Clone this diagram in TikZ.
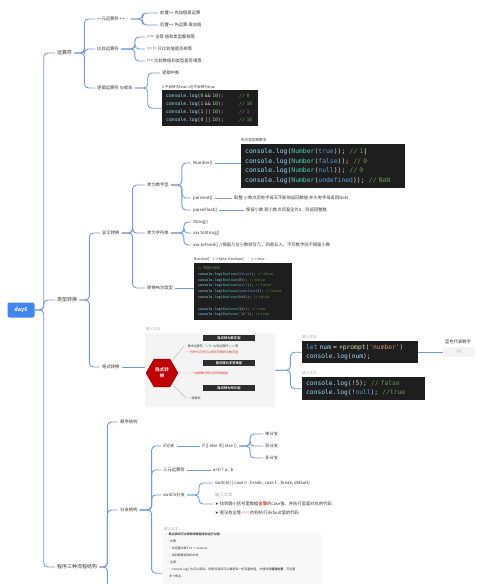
\documentclass[tikz,border=0pt]{standalone}
\usepackage{fontspec}
\setmainfont{Noto Sans CJK SC}[BoldFont={Noto Sans CJK SC Bold}]
\setmonofont{DejaVu Sans Mono}
\newfontfamily\symfont{DejaVu Sans}
\usetikzlibrary{
  positioning,
  shapes.geometric
}
\definecolor{linec}{RGB}{116,153,214}
\definecolor{daybg}{RGB}{66,133,240}
\definecolor{inkgray}{RGB}{51,51,51}
\definecolor{lblgray}{RGB}{165,165,165}
\definecolor{codebg}{RGB}{30,30,30}
\definecolor{codefg}{RGB}{212,212,212}
\definecolor{codeblue}{RGB}{156,220,254}
\definecolor{codekw}{RGB}{86,156,214}
\definecolor{codeteal}{RGB}{78,201,176}
\definecolor{codenum}{RGB}{181,206,168}
\definecolor{codecmt}{RGB}{106,153,85}
\definecolor{codestr}{RGB}{206,145,120}
\definecolor{codefn}{RGB}{220,220,170}
\definecolor{hexred}{RGB}{192,0,0}
\definecolor{bardark}{RGB}{45,45,45}
\definecolor{notered}{RGB}{220,40,40}
\definecolor{panelbg}{RGB}{244,244,244}
\newcommand{\fs}[2]{\fontsize{#1}{#2}\selectfont}
\newcommand{\cl}{\textcolor{codeblue}{console.log}}
\newcommand{\cm}[1]{\textcolor{codecmt}{#1}}
\newcommand{\nm}[1]{\textcolor{codenum}{#1}}
\newcommand{\zh}[1]{{\rmfamily #1}}

\begin{document}
\begin{tikzpicture}[x=1pt, y=-1pt,
  every node/.style={inner sep=0pt},
  topic/.style={anchor=west, inner xsep=2pt, inner ysep=1pt, text=inkgray, font=\fs{5}{6}},
  item/.style={anchor=west, inner xsep=2pt, inner ysep=1pt, text=inkgray, font=\fs{4.3}{5}},
  hint/.style={anchor=south west, text=lblgray, font=\fs{3.6}{4}},
  fine/.style={anchor=west, text=inkgray, font=\fs{3}{3.5}},
  bar/.style={fill=bardark, text=white, minimum width=52, minimum height=5.5, font=\fs{3.3}{4}\bfseries},
  branch/.style={draw=linec, line width=0.9pt, rounded corners=4pt},
  spoke/.style={draw=gray!70, line width=0.3pt},
  codebox/.style={anchor=north west, fill=codebg, text=codefg, align=left, inner xsep=4pt, inner ysep=2pt}]
  \useasboundingbox (0,0) rectangle (500,584);
  \clip (0,0) rectangle (500,584);

  % root and main topics
  \node[fill=daybg, text=white, rounded corners=2pt, minimum width=27, minimum height=15, font=\fs{5.5}{6}\bfseries] (day6) at (21,310) {day6};
  \node[topic] (ops) at (55,53) {运算符};
  \node[topic] (conv) at (55,300) {类型转换};
  \node[topic] (flow) at (55,567) {程序三种流程结构};
  \foreach \c in {ops,conv,flow}
    \draw[branch] (day6.east) -- ++(9,0) |- (\c.west);

  % operators
  \node[item] (unary) at (95,19) {一元运算符 ++ -{}-};
  \node[item] (cmp) at (95,49) {比较运算符};
  \node[item] (logic) at (95,88) {逻辑运算符 与或非};
  \foreach \c in {unary,cmp,logic}
    \draw[branch] (ops.east) -- ++(10,0) |- (\c.west);
  \node[item] (pre) at (158,13) {前置++ 先加值再运算};
  \node[item] (post) at (158,25) {后置++ 先运算 再加值};
  \foreach \c in {pre,post}
    \draw[branch] (unary.east) -- ++(12,0) |- (\c.west);
  \node[item] (eqq) at (145,37) {=== 全等 值和类型都相等};
  \node[item] (eq) at (145,49) {== != 只比较值是否相等};
  \node[item] (neqq) at (145,61) {!== 比较数值和类型是否相等};
  \foreach \c in {eqq,eq,neqq}
    \draw[branch] (cmp.east) -- ++(14,0) |- (\c.west);
  \node[item] (brk) at (160,73) {逻辑中断};
  \node[hint, text=inkgray] (lhint) at (162,89) {0 不会转为false 1也不会转为true};
  \node[codebox, font=\ttfamily\fs{4.75}{8}, text width=88, minimum height=36] (lcode) at (162,90) {%
    \makebox[73pt][l]{\cl(\nm{0}~\&\&~\nm{10});}\cm{//~0}\\
    \makebox[73pt][l]{\cl(\nm{1}~\&\&~\nm{10});}\cm{//~10}\\
    \makebox[73pt][l]{\cl(\nm{1}~||~\nm{10});}\cm{//~1}\\
    \makebox[73pt][l]{\cl(\nm{0}~||~\nm{10});}\cm{//~10}};
  \foreach \c in {brk,lcode}
    \draw[branch] (logic.east) -- ++(13,0) |- (\c.west);

  % explicit conversion
  \node[item] (explicit) at (100,233) {显示转换};
  \node[item] (implicit) at (100,367) {隐式转换};
  \foreach \c in {explicit,implicit}
    \draw[branch] (conv.east) -- ++(10,0) |- (\c.west);
  \node[item] (tonum) at (145,185) {转为数字型};
  \node[item] (tostr) at (145,233) {转为字符串};
  \node[item] (tobool) at (145,288) {转换布尔类型};
  \foreach \c in {tonum,tostr,tobool}
    \draw[branch] (explicit.east) -- ++(11,0) |- (\c.west);

  \node[item] (fnum) at (191,163) {Number()};
  \node[item] (fint) at (191,198) {parseInt()};
  \node[item] (fflt) at (191,210) {parseFloat()};
  \foreach \c in {fnum,fint,fflt}
    \draw[branch] (tonum.east) -- ++(11,0) |- (\c.west);
  \node[hint, text=inkgray] (nhint) at (241,142) {布尔类型转数字:};
  \node[codebox, font=\ttfamily\fs{6.4}{9.6}, text width=156, minimum height=44] (ncode) at (241,144) {%
    \cl(\textcolor{codeteal}{Number}(\textcolor{codekw}{true}));~~\cm{//~1}\textcolor{white}{|}\\
    \cl(\textcolor{codeteal}{Number}(\textcolor{codekw}{false}));~~\cm{//~0}\\
    \cl(\textcolor{codeteal}{Number}(\textcolor{codekw}{null}));~~\cm{//~0}\\
    \cl(\textcolor{codeteal}{Number}(\textcolor{codekw}{undefined}));~~\cm{//~NaN}};
  \draw[branch] (fnum.east) -- (fnum.east -| ncode.west);
  \node[item] (intnote) at (232,198) {取整 小数点后有字母又不影响返回数值 并头有字母返回NaN};
  \node[item] (fltnote) at (244,210) {保留小数 若小数点后面全为0，则返回整数};
  \draw[branch] (fint.east) -- (intnote.west);
  \draw[branch] (fflt.east) -- (fltnote.west);

  \node[item] (fstr) at (191,222) {String()};
  \node[item] (ftostr) at (191,233) {xxx.toString()};
  \node[item] (ffix) at (191,245) {xxx.toFixed() //保留几位小数就写几，四舍五入，不写数字则不保留小数};
  \foreach \c in {fstr,ftostr,ffix}
    \draw[branch] (tostr.east) -- ++(13,0) |- (\c.west);

  \node[hint, text=inkgray] (bhint) at (194,261) {Boolean('') -> false~~Boolean(' ') -> true};
  \node[codebox, font=\ttfamily\fs{3.4}{5.8}, text width=90, minimum height=57] (bcode) at (194,263) {%
    \cm{//~\zh{转换为假的}}\\
    \cl(\textcolor{codeteal}{Boolean}(\textcolor{codekw}{false}));~~\cm{//~false}\\
    \cl(\textcolor{codeteal}{Boolean}(\nm{0}));~~\cm{//~false}\\
    \cl(\textcolor{codeteal}{Boolean}(\textcolor{codekw}{null}));~~\cm{//~false}\\
    \cl(\textcolor{codeteal}{Boolean}(\textcolor{codekw}{undefined}));~~\cm{//~false}\\
    \cl(\textcolor{codeteal}{Boolean}(\textcolor{codekw}{NaN}));~~\cm{//~false}\\
    \mbox{}\\
    \cl(\textcolor{codeteal}{Boolean}(\nm{12}));~~\cm{//~true}\\
    \cl(\textcolor{codeteal}{Boolean}(\textcolor{codestr}{'12'}));~~\cm{//~true}};
  \draw[branch] (tobool.east) -- (tobool.east -| bcode.west);

  % implicit conversion
  \node[hint] (yshint) at (146,331) {输入文本};
  \node[fill=panelbg, anchor=north west, minimum width=130, minimum height=74] (yspanel) at (145,333) {};
  \draw[branch] (implicit.east) -- (implicit.east -| yspanel.west);
  \node[regular polygon, regular polygon sides=6, fill=hexred, draw=hexred!70!black, minimum size=32, text=white, align=center, font=\fs{4.5}{5.5}\bfseries] (hex) at (162,373) {隐式转\\换};
  \node[bar] (bnum) at (229,338) {隐式转为数字型};
  \node[bar] (bstr) at (229,363) {隐式转为字符串型};
  \node[bar] (bbool) at (229,388) {隐式转为布尔型};
  \node[fine] (r1) at (184,346) {• 算术运算符 - * / \%~~比较运算符 > == 等};
  \node[fine, text=notered] (r2) at (184,352) {• + 号作为正号可以把字符串转为数字型};
  \node[fine, text=notered] (r3) at (189,373) {• + 会把数字转为字符串相加};
  \node[fine] (r4) at (186,398) {• ! 逻辑非};
  \foreach \c in {r1,r3,r4}
    \draw[spoke] (hex) -- (\c.west);

  \node[hint] (c1hint) at (302,339) {输入文本};
  \node[codebox, font=\ttfamily\fs{6.3}{9}, text width=108, minimum height=22] (c1) at (302,341) {%
    \textcolor{codekw}{let}~\textcolor{codeblue}{num}~=~+\textcolor{codefn}{prompt}(\textcolor{codestr}{'number'})\\
    \cl(\textcolor{codeblue}{num});};
  \node[hint] (c2hint) at (302,375) {输入文本};
  \node[codebox, font=\ttfamily\fs{6.3}{9}, text width=115, minimum height=23] (c2) at (302,377) {%
    \cl(!\nm{5});~~\cm{//~false}\\
    \cl(!\textcolor{codekw}{null});~~\cm{//true}};
  \foreach \c in {c1,c2}
    \draw[branch] (yspanel.east) -- ++(15,0) |- (\c.west);
  \node[item, anchor=south west] (bluehint) at (443,345) {蓝色代表数字};
  \node[fill=panelbg, anchor=west, minimum width=32, minimum height=10, text=codekw, font=\fs{4.5}{5}] (blue) at (443,352) {!!!};
  \draw[branch] (c1.east) -- (c1.east -| blue.west);

  % flow structures
  \node[item] (seq) at (118,422) {顺序结构};
  \node[item] (branchs) at (118,510) {分支结构};
  \foreach \c in {seq,branchs}
    \draw[branch] (flow.east) -- ++(8,0) |- (\c.west);
  \draw[branch] (flow.east) -- ++(8,0) -- ++(0,30);

  \node[item] (ifb) at (161,446) {if分支};
  \node[item] (tern) at (161,470) {三元运算符};
  \node[item] (swb) at (161,495) {switch分支};
  \node[hint] (dbghint) at (164,531) {输入文本};
  \node[fill=panelbg!60, anchor=north west, minimum width=160, minimum height=80] (dbg) at (162,533) {};
  \foreach \c in {ifb,tern,swb,dbg}
    \draw[branch] (branchs.east) -- ++(12,0) |- (\c.west);

  \node[item] (ifs) at (200,446) {if () else if() else ()};
  \draw[branch] (ifb.east) -- (ifs.west);
  \node[item] (one) at (263,434) {单分支};
  \node[item] (two) at (263,446) {双分支};
  \node[item] (many) at (263,458) {多分支};
  \foreach \c in {one,two,many}
    \draw[branch] (ifs.east) -- ++(11,0) |- (\c.west);
  \node[item] (ternx) at (211,470) {a>b ? a : b};
  \draw[branch] (tern.east) -- (ternx.west);

  \node[item] (swx) at (213,483) {switch() \{ case 0 : break ; case 1 : break; default\}};
  \node[item, align=left, font=\fs{4.3}{9}] (swnote) at (213,504) {%
    \textcolor{lblgray}{输入文本}\\
    {\symfont ➤} 找到跟小括号里数据\textcolor{notered}{\bfseries 全等}的case值，并执行里面对应的代码\\
    {\symfont ➤} 若没有全等 \textcolor{notered}{===} 的则执行default里的代码};
  \foreach \c in {swx,swnote}
    \draw[branch] (swb.east) -- ++(12,0) |- (\c.west);

  \node[fine, anchor=north west, align=left, font=\fs{3}{7}] (dbgtxt) at (165,533) {%
    \textbf{• 断点调试可以帮助观察程序的运行过程}\\
    ~~• 步骤\\
    ~~~~• 浏览器中按 F12 → sources\\
    ~~~~• 找到需要调试的文件\\
    ~~• 注意\\
    ~~~~• console.log() 也可以调试，但断点调试可以看到每一步变量的值，方便找到\textbf{错误位置}，可设置\\
    ~~~~~~多个断点。};
\end{tikzpicture}
\end{document}
